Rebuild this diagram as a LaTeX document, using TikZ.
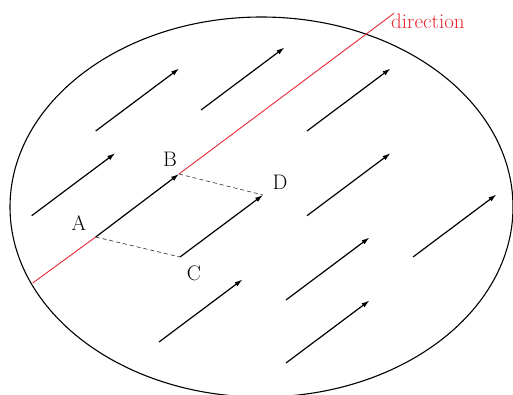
\documentclass[tikz,border=0pt]{standalone}
\usetikzlibrary{arrows.meta,shapes.geometric,calc}
\definecolor{dirred}{RGB}{232,40,50}
\begin{document}
\begin{tikzpicture}[x=1pt,y=-1pt,
  vec/.style={line width=1.2pt,-{Latex[length=8pt,width=5pt]}},
  dashline/.style={line width=0.7pt,dash pattern=on 4pt off 3pt,black!75},
  lbl/.style={font=\fontsize{21}{24}\selectfont,inner sep=0pt},
  redline/.style={dirred,line width=0.9pt}]
\useasboundingbox (0,0) rectangle (513,394);
\node[draw,ellipse,minimum width=503pt,minimum height=380pt,line width=1.1pt,inner sep=0pt] (E) at (261.5,207) {};
% key points
\coordinate (A) at (95.7,237);
\coordinate (B) at (179,174);
\coordinate (C) at (180,257);
\coordinate (D) at (263,195);
\coordinate (R0) at (32.7,283);
\coordinate (R1) at (394,13.3);
\draw[redline] (R0) -- (A);
\draw[redline] (B) -- (R1);
% other vectors
\foreach \i/\sx/\sy in {1/95.7/131,2/201/110,3/307/131,4/31.7/215.7,7/307/215.7,8/413/257,9/159/342,10/286/300,11/286/363}{
  \coordinate (s\i) at (\sx,\sy);
  \coordinate (e\i) at ($(\sx,\sy)+(83.5,-62.5)$);
}
\foreach \i in {1,2,3,4,7,8,9,10,11}{\draw[vec] (s\i) -- (e\i);}
\draw[vec] (A) -- (B);
\draw[vec] (C) -- (D);
\draw[dashline] (A) -- (C);
\draw[dashline] (B) -- (D);
\node[lbl] (lA) at (79,223) {A};
\node[lbl] (lB) at (170,159) {B};
\node[lbl] (lC) at (194,273) {C};
\node[lbl] (lD) at (280,182) {D};
\node[lbl,dirred,anchor=west] (dir) at (391,21) {direction};
\end{tikzpicture}
\end{document}
